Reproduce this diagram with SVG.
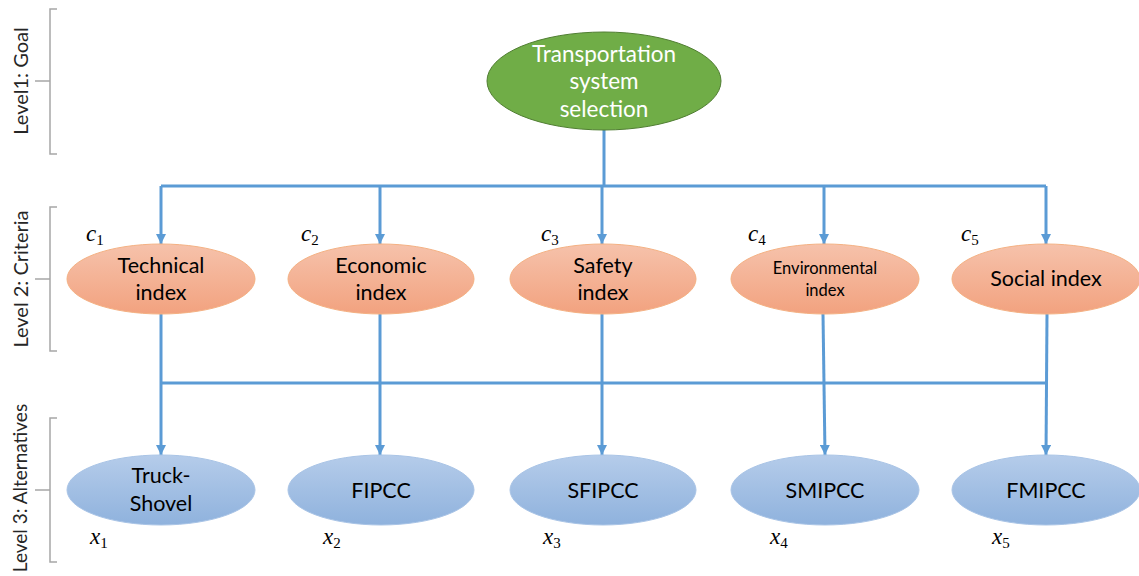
<svg xmlns="http://www.w3.org/2000/svg" width="1139" height="576" viewBox="0 0 1139 576">
  <defs>
    <linearGradient id="gradCrit" x1="0" y1="0" x2="0" y2="1">
      <stop offset="0" stop-color="#F6C2AB"/>
      <stop offset="1" stop-color="#F2A27F"/>
    </linearGradient>
    <linearGradient id="gradAlt" x1="0" y1="0" x2="0" y2="1">
      <stop offset="0" stop-color="#B5CCEA"/>
      <stop offset="1" stop-color="#8FB2DD"/>
    </linearGradient>
    <marker id="arrow" viewBox="0 0 10 10" refX="10" refY="5" markerWidth="10" markerHeight="10" markerUnits="userSpaceOnUse" orient="auto">
      <path d="M0,0 L10,5 L0,10 Z" fill="#5B9BD5"/>
    </marker>
    <style>
      .bracket { fill: none; stroke: #A6A6A6; stroke-width: 1.5; }
      .level { font-family: Lato, "Open Sans", sans-serif; font-size: 20px; fill: #262626; text-anchor: middle; }
      .goal { fill: #70AD47; stroke: #507E32; stroke-width: 1; }
      .goalText { font-family: Lato, "Open Sans", sans-serif; font-size: 22.5px; fill: #FFFFFF; text-anchor: middle; }
      .crit { fill: url(#gradCrit); stroke: #F4B183; stroke-width: 1; }
      .alt { fill: url(#gradAlt); stroke: #A9C4E6; stroke-width: 1; }
      .label { font-family: Lato, "Open Sans", sans-serif; font-size: 21.5px; fill: #000000; text-anchor: middle; }
      .small { font-size: 16.5px; }
      .math { font-family: "Liberation Serif", "DejaVu Serif", serif; font-style: italic; font-size: 23px; fill: #000000; }
      .sub { font-style: normal; font-size: 15px; }
      .conn { fill: none; stroke: #5B9BD5; stroke-width: 3; }
    </style>
  </defs>

  <!-- level brackets -->
  <g id="levels">
    <path class="bracket" d="M57,9 H50 V154 H57 M50,81 H35"/>
    <path class="bracket" d="M57,207 H50 V351 H57 M50,279 H35"/>
    <path class="bracket" d="M57,418 H50 V562 H57 M50,490 H35"/>
    <text class="level" transform="translate(28,81) rotate(-90)">Level1: Goal</text>
    <text class="level" transform="translate(28,279) rotate(-90)">Level 2: Criteria</text>
    <text class="level" style="font-size:19px" transform="translate(27,488) rotate(-90)">Level 3: Alternatives</text>
  </g>

  <!-- connectors -->
  <g id="connectors">
    <path class="conn" d="M604,130 V186"/>
    <path class="conn" d="M161,186 H1046"/>
    <path class="conn" d="M161,186 V244" marker-end="url(#arrow)"/>
    <path class="conn" d="M380,186 V244" marker-end="url(#arrow)"/>
    <path class="conn" d="M602,186 V244" marker-end="url(#arrow)"/>
    <path class="conn" d="M824,186 V244" marker-end="url(#arrow)"/>
    <path class="conn" d="M1046,186 V244" marker-end="url(#arrow)"/>
    <path class="conn" d="M161,383 H1046"/>
    <path class="conn" d="M161,314 V455" marker-end="url(#arrow)"/>
    <path class="conn" d="M380,314 V455" marker-end="url(#arrow)"/>
    <path class="conn" d="M602,314 V455" marker-end="url(#arrow)"/>
    <path class="conn" d="M823,314 L825,455" marker-end="url(#arrow)"/>
    <path class="conn" d="M1047,314 L1046,455" marker-end="url(#arrow)"/>
  </g>

  <!-- goal -->
  <g id="goal">
    <ellipse class="goal" cx="604" cy="81" rx="117" ry="49"/>
    <text class="goalText" x="604" y="62">Transportation</text>
    <text class="goalText" x="604" y="89">system</text>
    <text class="goalText" x="604" y="117">selection</text>
  </g>

  <!-- criteria -->
  <g id="c1">
    <ellipse class="crit" cx="161" cy="279" rx="94" ry="35"/>
    <text class="label" x="161" y="273">Technical</text>
    <text class="label" x="161" y="300">index</text>
    <text class="math" x="86" y="241">c<tspan class="sub" dy="4">1</tspan></text>
  </g>
  <g id="c2">
    <ellipse class="crit" cx="381" cy="279" rx="93" ry="35"/>
    <text class="label" x="381" y="273">Economic</text>
    <text class="label" x="381" y="300">index</text>
    <text class="math" x="301" y="241">c<tspan class="sub" dy="4">2</tspan></text>
  </g>
  <g id="c3">
    <ellipse class="crit" cx="603" cy="279" rx="93" ry="35"/>
    <text class="label" x="603" y="273">Safety</text>
    <text class="label" x="603" y="300">index</text>
    <text class="math" x="541" y="241">c<tspan class="sub" dy="4">3</tspan></text>
  </g>
  <g id="c4">
    <ellipse class="crit" cx="825" cy="279" rx="94" ry="35"/>
    <text class="label small" x="825" y="274">Environmental</text>
    <text class="label small" x="825" y="296">index</text>
    <text class="math" x="748" y="241">c<tspan class="sub" dy="4">4</tspan></text>
  </g>
  <g id="c5">
    <ellipse class="crit" cx="1046" cy="279" rx="94" ry="35"/>
    <text class="label" x="1046" y="286">Social index</text>
    <text class="math" x="961" y="241">c<tspan class="sub" dy="4">5</tspan></text>
  </g>

  <!-- alternatives -->
  <g id="x1">
    <ellipse class="alt" cx="161" cy="490" rx="94" ry="35"/>
    <text class="label" x="161" y="483">Truck-</text>
    <text class="label" x="161" y="511">Shovel</text>
    <text class="math" x="90" y="544">x<tspan class="sub" dy="4">1</tspan></text>
  </g>
  <g id="x2">
    <ellipse class="alt" cx="381" cy="490" rx="93" ry="35"/>
    <text class="label" x="381" y="498">FIPCC</text>
    <text class="math" x="323" y="544">x<tspan class="sub" dy="4">2</tspan></text>
  </g>
  <g id="x3">
    <ellipse class="alt" cx="603" cy="490" rx="93" ry="35"/>
    <text class="label" x="603" y="498">SFIPCC</text>
    <text class="math" x="543" y="544">x<tspan class="sub" dy="4">3</tspan></text>
  </g>
  <g id="x4">
    <ellipse class="alt" cx="825" cy="490" rx="94" ry="35"/>
    <text class="label" x="825" y="498">SMIPCC</text>
    <text class="math" x="770" y="544">x<tspan class="sub" dy="4">4</tspan></text>
  </g>
  <g id="x5">
    <ellipse class="alt" cx="1046" cy="490" rx="94" ry="35"/>
    <text class="label" x="1046" y="498">FMIPCC</text>
    <text class="math" x="992" y="544">x<tspan class="sub" dy="4">5</tspan></text>
  </g>
</svg>
